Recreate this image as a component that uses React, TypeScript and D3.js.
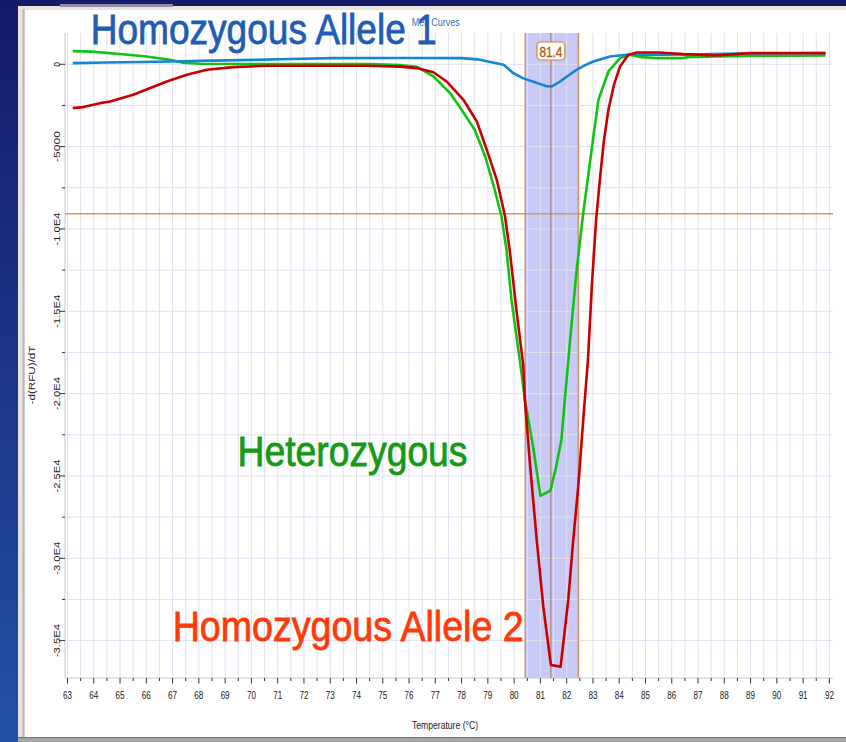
import React from "react";
import * as d3 from "d3";

// Melt peak readings: [temperature °C, -d(RFU)/dT]
const allele1Curve: [number, number][] = [
  [63.2, 70], [64.5, 110], [65.8, 140], [66.9, 170], [68.5, 220], [70.1, 270],
  [71.5, 320], [73.1, 375], [76.0, 380], [78.0, 375], [78.6, 300], [79.0, 170],
  [79.6, -30], [79.96, -530], [80.33, -840], [80.87, -1140], [81.24, -1330],
  [81.44, -1340], [81.75, -1045], [82.05, -700], [82.38, -334], [82.7, -50],
  [83.02, 170], [83.65, 475], [84.29, 577], [85.55, 577], [87.07, 600],
  [88.5, 650], [91.85, 680],
];

const heterozygousCurve: [number, number][] = [
  [63.2, 800], [63.9, 770], [65.0, 620], [66.0, 470], [66.9, 273], [67.4, 100],
  [68.0, 30], [70.0, 20], [74.5, 10], [75.66, -40], [76.3, -150], [76.93, -740],
  [77.56, -1750], [78.0, -2760], [78.5, -3980], [78.9, -5600], [79.26, -7620],
  [79.52, -9246], [79.71, -11270], [79.9, -14307], [80.28, -18740], [80.41, -20380],
  [80.72, -23200], [81.0, -26210], [81.38, -25890], [81.6, -24430], [81.8, -22800],
  [81.93, -20380], [82.15, -16400], [82.38, -12480], [82.63, -9040], [83.0, -4590],
  [83.21, -2157], [83.59, -435], [84.03, 375], [84.41, 577], [84.79, 440],
  [85.4, 375], [86.4, 375], [86.6, 430], [87.7, 475], [89.0, 500], [91.85, 535],
];

const allele2Curve: [number, number][] = [
  [63.2, -2660], [63.6, -2600], [64.24, -2360], [64.62, -2260], [65.5, -1850],
  [66.78, -1045], [67.54, -640], [68.3, -334], [69.31, -170], [70.58, -90],
  [74.39, -90], [75.66, -140], [76.29, -231], [76.93, -480], [77.43, -1045],
  [78.07, -2157], [78.58, -3475], [78.96, -5194], [79.34, -7016], [79.65, -9200],
  [79.84, -11400], [80.1, -15115], [80.35, -18300], [80.41, -20380], [80.6, -24200],
  [80.86, -28890], [81.11, -32940], [81.4, -36480], [81.77, -36580], [82.06, -32530],
  [82.25, -28890], [82.44, -25650], [82.63, -21600], [82.81, -17950], [82.96, -13400],
  [83.12, -9450], [83.27, -6900], [83.42, -4590], [83.59, -2764], [83.8, -1245],
  [84.03, -130], [84.35, 577], [84.67, 720], [85.5, 720], [86.44, 620],
  [87.71, 535], [88.98, 680], [91.85, 680],
];

const tempTicks = [
  63, 64, 65, 66, 67, 68, 69, 70, 71, 72, 73, 74, 75, 76, 77,
  78, 79, 80, 81, 82, 83, 84, 85, 86, 87, 88, 89, 90, 91, 92,
];
const rfuTicks = [0, -5000, -10000, -15000, -20000, -25000, -30000, -35000];
const rfuTickLabels = ["0", "-5000", "-1.0E4", "-1.5E4", "-2.0E4", "-2.5E4", "-3.0E4", "-3.5E4"];

const thresholdRfu = -9080;
const peakTemp = 81.4;
const peakWindow: [number, number] = [80.42, 82.44];

const W = 846;
const H = 742;
const plot = { left: 65, right: 833, top: 33, bottom: 678 };
const FONT = "'Liberation Sans Narrow', 'Arial Narrow', 'Liberation Sans', Arial, sans-serif";

export default function App() {
  const x = d3.scaleLinear().domain([62.905, 92.137]).range([plot.left, plot.right]);
  const y = d3.scaleLinear().domain([-37270, 1900]).range([plot.bottom, plot.top]);

  const line = d3
    .line<[number, number]>()
    .x((d) => x(d[0]))
    .y((d) => y(d[1]));

  // grid every half degree / 2500 units
  const vGrid = d3.range(63, 92.01, 0.5);
  const hGrid = d3.range(0, -35001, -2500);

  return (
    <svg
      width={W}
      height={H}
      style={{ position: "absolute", left: 0, top: 0, display: "block" }}
    >
      <defs>
        <linearGradient id="slideBg" x1="0" y1="0" x2="0" y2="1">
          <stop offset="0" stopColor="#151a68" />
          <stop offset="1" stopColor="#2350a4" />
        </linearGradient>
      </defs>

      {/* slide background and window frame */}
      <rect width={W} height={H} fill="url(#slideBg)" />
      <rect x={18} y={6} width={W - 18} height={H - 6} fill="#e8e5dd" />
      <rect x={60} y={4} width={113} height={3} fill="#8d8fa8" />
      <rect x={25} y={10} width={W - 25} height={727} fill="#ffffff" />
      <rect x={22.5} y={9} width={2} height={729} fill="#b8b8b8" />
      <rect x={18} y={737} width={W - 18} height={5} fill="#a6a6a6" />
      <line x1={18} x2={W} y1={737.5} y2={737.5} stroke="#6f6f6f" />

      {/* melt peak window */}
      <rect
        x={x(peakWindow[0])}
        y={plot.top}
        width={x(peakWindow[1]) - x(peakWindow[0])}
        height={plot.bottom - plot.top}
        fill="#c9c9f7"
      />

      {/* grid */}
      {vGrid.map((t) => (
        <line key={"v" + t} x1={x(t)} x2={x(t)} y1={plot.top} y2={plot.bottom} stroke="#e0e0f1" />
      ))}
      {hGrid.map((v) => (
        <line key={"h" + v} x1={plot.left} x2={plot.right} y1={y(v)} y2={y(v)} stroke="#e0e0f1" />
      ))}

      {/* axes */}
      <line x1={plot.left} x2={plot.left} y1={plot.top} y2={plot.bottom} stroke="#c6c6dc" />
      <line x1={plot.left} x2={plot.right} y1={plot.bottom} y2={plot.bottom} stroke="#c6c6dc" />

      {vGrid.map((t) => (
        <line
          key={"xt" + t}
          x1={x(t)}
          x2={x(t)}
          y1={plot.bottom}
          y2={plot.bottom + (t % 1 === 0 ? 5.5 : 3)}
          stroke="#333"
        />
      ))}
      {hGrid.map((v) => (
        <line
          key={"yt" + v}
          x1={plot.left - (v % 5000 === 0 ? 6 : 3)}
          x2={plot.left}
          y1={y(v)}
          y2={y(v)}
          stroke="#333"
        />
      ))}

      {tempTicks.map((t) => (
        <text
          key={"xl" + t}
          x={x(t)}
          y={698.5}
          textAnchor="middle"
          fontFamily={FONT}
          fontSize={10.5}
          textLength={9}
          lengthAdjust="spacingAndGlyphs"
          fill="#1a1a1a"
        >
          {t}
        </text>
      ))}
      {rfuTicks.map((v, i) => (
        <text
          key={"yl" + v}
          transform={`translate(59.5, ${y(v)}) rotate(-90)`}
          textAnchor="middle"
          fontFamily={FONT}
          fontSize={8.5}
          textLength={v === 0 ? undefined : rfuTickLabels[i].length > 5 ? 33 : 31}
          lengthAdjust={v === 0 ? undefined : "spacingAndGlyphs"}
          fill="#1a1a1a"
        >
          {rfuTickLabels[i]}
        </text>
      ))}

      <text
        transform={`translate(35, 375) rotate(-90)`}
        textAnchor="middle"
        fontFamily={FONT}
        fontSize={9.5}
        textLength={59}
        lengthAdjust="spacingAndGlyphs"
        fill="#222"
      >
        -d(RFU)/dT
      </text>
      <text
        x={445}
        y={729}
        textAnchor="middle"
        fontFamily={FONT}
        fontSize={10}
        textLength={66}
        lengthAdjust="spacingAndGlyphs"
        fill="#222"
      >
        Temperature (°C)
      </text>

      {/* threshold and peak markers */}
      <line
        x1={plot.left}
        x2={plot.right}
        y1={y(thresholdRfu)}
        y2={y(thresholdRfu)}
        stroke="#d39b5e"
        strokeWidth={1.6}
      />
      <line x1={x(peakWindow[0])} x2={x(peakWindow[0])} y1={plot.top} y2={plot.bottom} stroke="#c98a4e" strokeWidth={1.2} />
      <line x1={x(peakWindow[1])} x2={x(peakWindow[1])} y1={plot.top} y2={plot.bottom} stroke="#c98a4e" strokeWidth={1.2} />
      <line x1={x(peakTemp)} x2={x(peakTemp)} y1={plot.top} y2={plot.bottom} stroke="#a87450" strokeWidth={1} />

      {/* curves */}
      <path d={line(heterozygousCurve) ?? ""} fill="none" stroke="#12c212" strokeWidth={2.6} strokeLinejoin="round" />
      <path d={line(allele1Curve) ?? ""} fill="none" stroke="#1289cf" strokeWidth={2.6} strokeLinejoin="round" />
      <path d={line(allele2Curve) ?? ""} fill="none" stroke="#c80000" strokeWidth={2.6} strokeLinejoin="round" />

      {/* peak label */}
      <rect
        x={x(peakTemp) - 14}
        y={42}
        width={28}
        height={18}
        rx={4}
        fill="#fffaf2"
        stroke="#c8873c"
        strokeWidth={1.2}
      />
      <text
        x={x(peakTemp)}
        y={56.5}
        textAnchor="middle"
        fontFamily={FONT}
        fontSize={14.5}
        textLength={23}
        lengthAdjust="spacingAndGlyphs"
        fill="#a35c18"
        stroke="#a35c18"
        strokeWidth={0.3}
      >
        {peakTemp}
      </text>

      {/* slide annotations */}
      <text
        x={411.7}
        y={25.5}
        fontFamily={FONT}
        fontSize={10.5}
        textLength={48}
        lengthAdjust="spacingAndGlyphs"
        fill="#3b6cb5"
      >
        Melt Curves
      </text>
      <text
        x={90.7}
        y={43.5}
        fontFamily={FONT}
        fontSize={42.5}
        textLength={346}
        lengthAdjust="spacingAndGlyphs"
        fill="#1f5db4"
        stroke="#1f5db4"
        strokeWidth={0.8}
      >
        Homozygous Allele 1
      </text>
      <text
        x={237.5}
        y={466}
        fontFamily={FONT}
        fontSize={42.5}
        textLength={230}
        lengthAdjust="spacingAndGlyphs"
        fill="#149a14"
        stroke="#149a14"
        strokeWidth={0.8}
      >
        Heterozygous
      </text>
      <text
        x={172.7}
        y={641}
        fontFamily={FONT}
        fontSize={42.5}
        textLength={351}
        lengthAdjust="spacingAndGlyphs"
        fill="#ff3a0a"
        stroke="#ff3a0a"
        strokeWidth={0.8}
      >
        Homozygous Allele 2
      </text>
    </svg>
  );
}
